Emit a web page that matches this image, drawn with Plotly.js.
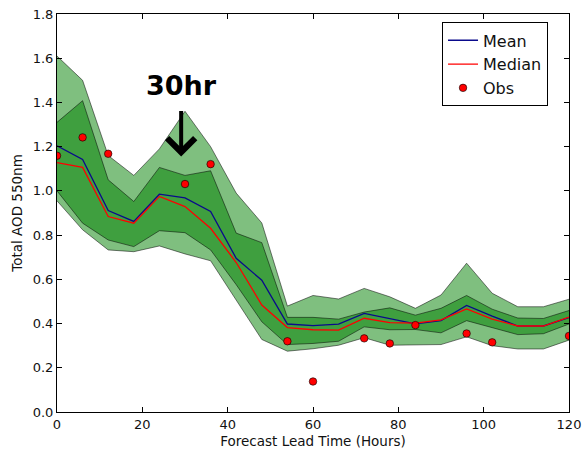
<!DOCTYPE html>
<html>
<head>
<meta charset="utf-8">
<script src="https://cdn.plot.ly/plotly-3.0.1.min.js"></script>
<style>
  html, body { margin: 0; padding: 0; background: #fff; }
  #chart { width: 587px; height: 455px; }
</style>
</head>
<body>
<div id="chart"></div>
<script>
// Forecast lead time (hours)
const hours = [0, 6, 12, 18, 24, 30, 36, 42, 48, 54, 60, 66, 72, 78, 84, 90, 96, 102, 108, 114, 120];

// Ensemble mean and median of total AOD 550nm
const meanAOD   = [1.204, 1.142, 0.911, 0.862, 0.985, 0.968, 0.907, 0.695, 0.596, 0.398, 0.391, 0.397, 0.446, 0.421, 0.399, 0.413, 0.482, 0.434, 0.389, 0.389, 0.427];
const medianAOD = [1.128, 1.106, 0.884, 0.854, 0.975, 0.929, 0.831, 0.676, 0.484, 0.382, 0.372, 0.370, 0.424, 0.404, 0.402, 0.417, 0.466, 0.420, 0.389, 0.389, 0.429];

// Observations (null where there is no observation)
const obsAOD = [1.159, 1.242, 1.168, null, null, 1.031, 1.121, null, null, 0.320, 0.138, null, 0.333, 0.310, 0.393, null, 0.355, 0.315, null, null, 0.344];

// Spread bands: outer (light) and inner (dark)
const outerTop    = [1.610, 1.500, 1.160, 1.070, 1.190, 1.360, 1.200, 0.990, 0.855, 0.479, 0.527, 0.511, 0.559, 0.521, 0.469, 0.529, 0.673, 0.537, 0.476, 0.476, 0.510];
const innerTop    = [1.310, 1.408, 1.050, 0.952, 1.106, 1.070, 1.091, 0.809, 0.766, 0.428, 0.428, 0.420, 0.452, 0.471, 0.438, 0.469, 0.527, 0.465, 0.425, 0.423, 0.459];
const innerBottom = [1.000, 0.854, 0.778, 0.748, 0.820, 0.811, 0.733, 0.576, 0.408, 0.305, 0.310, 0.320, 0.385, 0.372, 0.373, 0.358, 0.413, 0.381, 0.350, 0.354, 0.398];
const outerBottom = [0.955, 0.824, 0.733, 0.725, 0.751, 0.715, 0.684, 0.506, 0.328, 0.275, 0.286, 0.302, 0.336, 0.302, 0.302, 0.305, 0.340, 0.300, 0.285, 0.285, 0.325];

const legendNames = ['Mean', 'Median', 'Obs'];

const fillCol = 'rgba(0,128,0,0.5)';
const edgeCol = 'rgba(0,0,0,0.5)';

function edge(y, fill) {
  return {
    x: hours, y: y, type: 'scatter', mode: 'lines',
    line: { color: edgeCol, width: 1 },
    fill: fill ? 'tonexty' : 'none',
    fillcolor: fillCol,
    showlegend: false, hoverinfo: 'skip'
  };
}

const traces = [
  edge(outerBottom, false),
  edge(outerTop, true),
  edge(innerBottom, false),
  edge(innerTop, true),
  {
    x: hours, y: meanAOD, type: 'scatter', mode: 'lines', name: legendNames[0],
    line: { color: '#0a0a8c', width: 1.3 }
  },
  {
    x: hours, y: medianAOD, type: 'scatter', mode: 'lines', name: legendNames[1],
    line: { color: '#ff0000', width: 1.3 }
  },
  {
    x: hours, y: obsAOD, type: 'scatter', mode: 'markers', name: legendNames[2],
    marker: { color: '#ff0000', size: 7.5, line: { color: '#000', width: 0.6 } }
  }
];

const axisCommon = {
  showgrid: false, zeroline: false,
  showline: true, linecolor: '#000', linewidth: 1, mirror: 'allticks',
  ticks: 'inside', ticklen: 5, tickwidth: 1, tickcolor: '#000',
  tickfont: { family: 'DejaVu Sans', size: 13, color: '#111' }
};

const layout = {
  width: 587, height: 455,
  margin: { l: 57, r: 18, t: 14, b: 43 },
  paper_bgcolor: '#fff', plot_bgcolor: '#fff',
  font: { family: 'DejaVu Sans', color: '#111' },
  xaxis: Object.assign({}, axisCommon, {
    range: [0, 120], tick0: 0, dtick: 20,
    title: { text: 'Forecast Lead Time (Hours)', font: { size: 13.5 }, standoff: 5 }
  }),
  yaxis: Object.assign({}, axisCommon, {
    range: [0, 1.8], tick0: 0, dtick: 0.2, tickformat: '.1f',
    title: { text: 'Total AOD 550nm', font: { size: 13.5 }, standoff: 6 }
  }),
  legend: {
    x: 0.752, y: 0.979, xanchor: 'left', yanchor: 'top',
    traceorder: 'normal',
    bgcolor: '#fff', bordercolor: '#000', borderwidth: 1,
    font: { family: 'DejaVu Sans', size: 16, color: '#111' }
  },
  showlegend: true,
  annotations: [
    {
      xref: 'x', yref: 'y', x: 29.2, y: 1.476,
      text: '<b>30hr</b>', showarrow: false,
      font: { family: 'DejaVu Sans', size: 27, color: '#000' }
    },
    {
      xref: 'x', yref: 'y', axref: 'x', ayref: 'y',
      x: 29.1, y: 1.156, ax: 29.1, ay: 1.40,
      text: ' ', showarrow: true,
      arrowhead: 4, arrowsize: 1.35, arrowwidth: 4, arrowcolor: '#000', standoff: 0, startstandoff: 0
    }
  ]
};

Plotly.newPlot('chart', traces, layout, { displayModeBar: false, staticPlot: true });
</script>
</body>
</html>
